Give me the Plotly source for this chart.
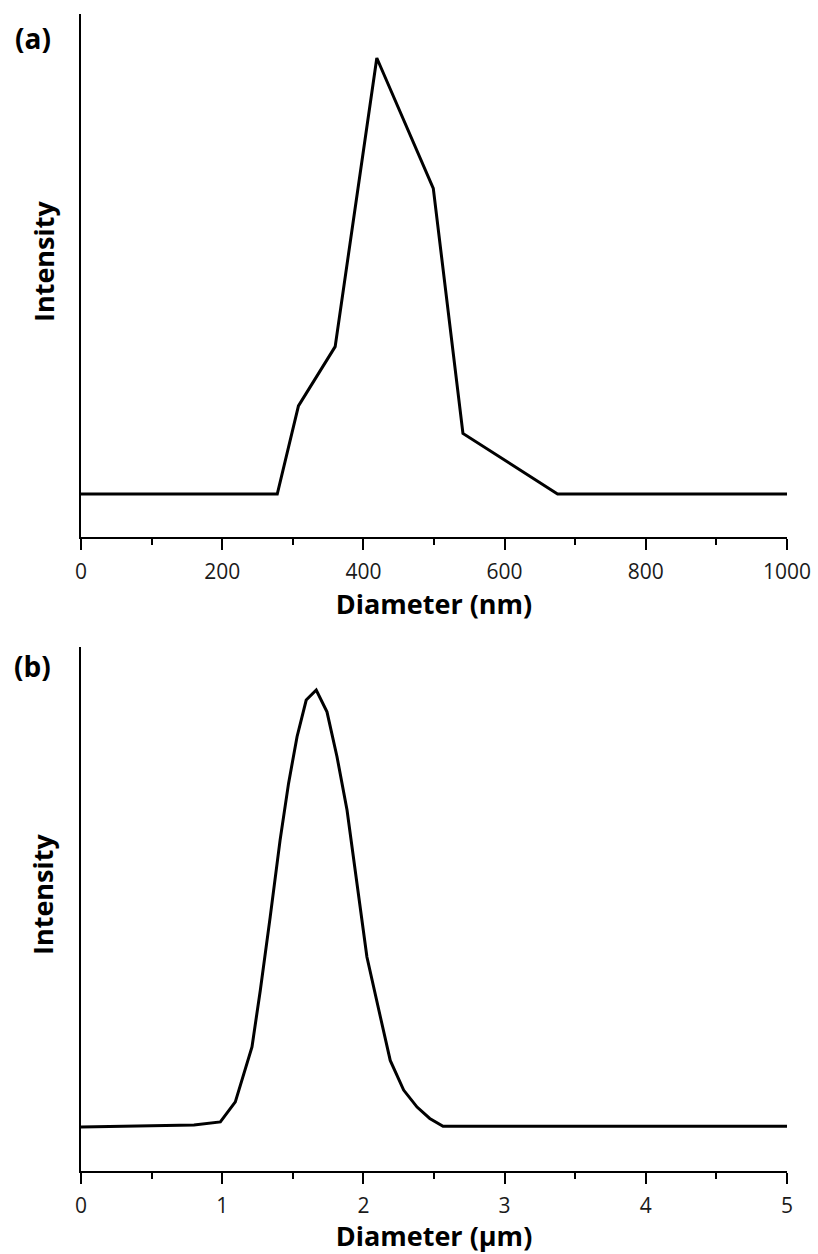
import plotly.graph_objects as go

# Panel (a): diameter in nm vs. normalized intensity
diam_a = [0, 278, 308, 360, 419, 499, 541, 675, 1000]
int_a = [0, 0, 20.2, 33.8, 100, 70.1, 13.9, 0, 0]

# Panel (b): diameter in µm vs. normalized intensity
diam_b = [0, 0.80, 0.987, 1.093, 1.211, 1.27, 1.34, 1.41, 1.47, 1.53, 1.595, 1.666,
          1.742, 1.813, 1.884, 1.955, 2.025, 2.12, 2.19, 2.285, 2.38, 2.47, 2.564, 5]
int_b = [-0.15, 0.3, 1.0, 5.6, 18.2, 31.2, 48.0, 65.6, 78.6, 89.3, 97.7, 100,
         95.0, 84.7, 72.5, 55.7, 38.8, 25.1, 15.1, 8.3, 4.4, 1.8, 0, 0]

ticks_a = [0, 200, 400, 600, 800, 1000]
ticks_b = [0, 1, 2, 3, 4, 5]

FONT = "Open Sans"
W, H = 818, 1254
L, R, T, B = 81, 31, 14, 83
PH = H - T - B

def py(p):
    return (H - B - p) / PH

def px(p):
    return (p - L) / (W - L - R)

fig = go.Figure()
fig.add_trace(go.Scatter(x=diam_a, y=int_a, mode="lines",
                         line=dict(color="black", width=3), xaxis="x", yaxis="y"))
fig.add_trace(go.Scatter(x=diam_b, y=int_b, mode="lines",
                         line=dict(color="black", width=3), xaxis="x2", yaxis="y2"))

xcommon = dict(showline=True, linecolor="black", linewidth=2, ticks="outside",
               ticklen=11, tickwidth=2, tickcolor="black", showgrid=False, zeroline=False,
               automargin=False, ticklabelstandoff=4,
               tickfont=dict(family=FONT, size=21, color="#1a1a1a"))
ycommon = dict(showline=True, linecolor="black", linewidth=2, showticklabels=False,
               ticks="", showgrid=False, zeroline=False, automargin=False)

title_font = dict(family=FONT, size=27, color="black")

fig.update_layout(
    width=W, height=H,
    margin=dict(l=L, r=R, t=T, b=B, autoexpand=False),
    paper_bgcolor="white", plot_bgcolor="white",
    showlegend=False,
    xaxis=dict(**xcommon, range=[0, 1000], tickvals=ticks_a, anchor="y",
               minor=dict(dtick=100, ticks="outside", ticklen=6, tickwidth=2, tickcolor="black"),
               title=dict(text="<b>Diameter (nm)</b>", font=title_font, standoff=10)),
    yaxis=dict(**ycommon, range=[-9.86, 110.09], domain=[py(537), 1.0], anchor="x"),
    xaxis2=dict(**xcommon, range=[0, 5], tickvals=ticks_b, anchor="y2",
                minor=dict(dtick=0.5, ticks="outside", ticklen=6, tickwidth=2, tickcolor="black"),
                title=dict(text="<b>Diameter (µm)</b>", font=title_font, standoff=11)),
    yaxis2=dict(**ycommon, range=[-10.25, 109.86], domain=[0, py(647)], anchor="x2"),
)

fig.add_annotation(text="<b>(a)</b>", xref="paper", yref="paper", x=px(33), y=py(38),
                   showarrow=False, xanchor="center", yanchor="middle",
                   font=dict(family=FONT, size=28, color="black"))
fig.add_annotation(text="<b>(b)</b>", xref="paper", yref="paper", x=px(33), y=py(666),
                   showarrow=False, xanchor="center", yanchor="middle",
                   font=dict(family=FONT, size=28, color="black"))
fig.add_annotation(text="<b>Intensity</b>", xref="paper", yref="paper", x=px(43), y=py(262),
                   showarrow=False, textangle=-90, xanchor="center", yanchor="middle", font=title_font)
fig.add_annotation(text="<b>Intensity</b>", xref="paper", yref="paper", x=px(43), y=py(895),
                   showarrow=False, textangle=-90, xanchor="center", yanchor="middle", font=title_font)

fig.write_html("out.html")
